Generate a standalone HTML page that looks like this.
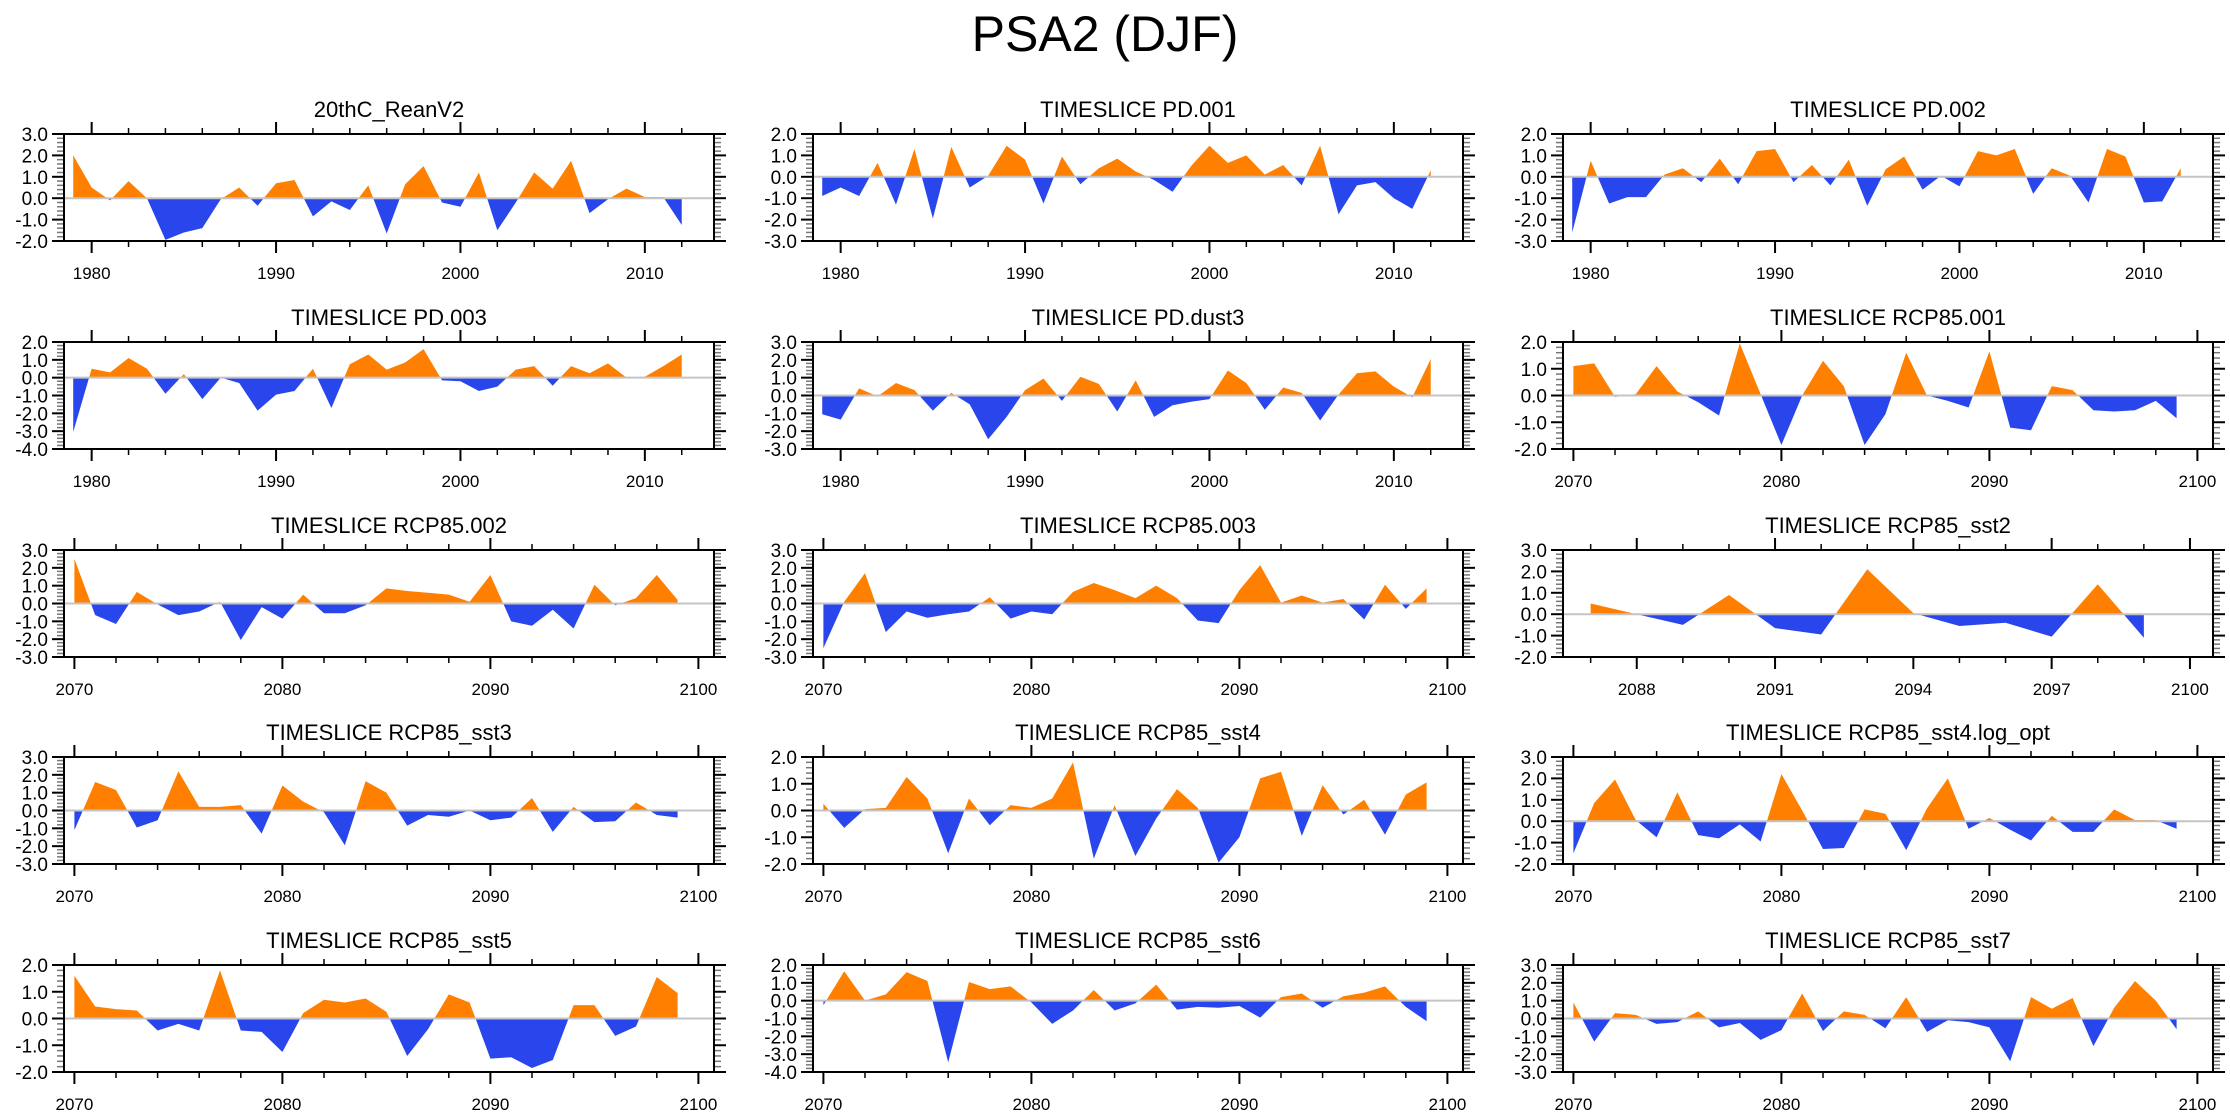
<!DOCTYPE html>
<html><head><meta charset="utf-8"><title>PSA2 (DJF)</title>
<style>
html,body{margin:0;padding:0;background:#fff;}
svg{display:block;font-family:"Liberation Sans",Arial,sans-serif;}
</style></head>
<body>
<svg id="fig" width="2230" height="1120" viewBox="0 0 2230 1120" xmlns="http://www.w3.org/2000/svg">
<text x="1105" y="51" font-size="50" text-anchor="middle">PSA2 (DJF)</text>
</svg>
<script>
const reanV2 = [2.0,0.5,-0.1,0.8,0.0,-1.95,-1.6,-1.4,-0.05,0.5,-0.35,0.7,0.85,-0.85,-0.15,-0.55,0.6,-1.65,0.65,1.5,-0.2,-0.4,1.2,-1.5,-0.2,1.2,0.45,1.75,-0.7,-0.05,0.45,0.05,0.05,-1.25];
const pd001 = [-0.9,-0.5,-0.9,0.65,-1.3,1.3,-1.95,1.4,-0.5,0.05,1.45,0.8,-1.25,0.95,-0.35,0.4,0.85,0.25,-0.15,-0.7,0.5,1.45,0.65,1.0,0.1,0.55,-0.4,1.45,-1.75,-0.4,-0.25,-1.0,-1.5,0.3];
const pd002 = [-2.6,0.75,-1.25,-0.95,-0.95,0.1,0.4,-0.25,0.85,-0.35,1.2,1.3,-0.25,0.55,-0.4,0.8,-1.35,0.35,0.95,-0.6,0.05,-0.45,1.2,1.0,1.3,-0.8,0.4,0.05,-1.2,1.3,0.95,-1.2,-1.15,0.4];
const pd003 = [-3.05,0.5,0.3,1.1,0.5,-0.9,0.2,-1.2,0.0,-0.3,-1.85,-0.95,-0.75,0.5,-1.7,0.75,1.3,0.45,0.85,1.6,-0.15,-0.2,-0.75,-0.5,0.45,0.65,-0.45,0.65,0.25,0.8,0.0,0.05,0.65,1.3];
const pdDust3 = [-1.05,-1.35,0.4,-0.05,0.7,0.3,-0.85,0.15,-0.5,-2.45,-1.2,0.3,0.95,-0.3,1.05,0.65,-0.9,0.85,-1.2,-0.55,-0.35,-0.2,1.4,0.7,-0.8,0.45,0.15,-1.4,0.05,1.25,1.35,0.5,-0.1,2.05];
const rcp001 = [1.1,1.2,-0.05,0.05,1.1,0.15,-0.25,-0.75,1.95,0.05,-1.85,0.0,1.3,0.35,-1.85,-0.7,1.6,0.0,-0.2,-0.45,1.65,-1.2,-1.3,0.35,0.2,-0.55,-0.6,-0.55,-0.2,-0.85];
const rcp002 = [2.5,-0.65,-1.15,0.65,-0.05,-0.65,-0.45,0.1,-2.05,-0.2,-0.85,0.5,-0.55,-0.55,-0.1,0.85,0.7,0.6,0.5,0.1,1.6,-1.0,-1.25,-0.35,-1.4,1.05,-0.1,0.3,1.6,0.2];
const rcp003 = [-2.5,0.1,1.7,-1.6,-0.45,-0.8,-0.6,-0.45,0.35,-0.85,-0.45,-0.6,0.65,1.15,0.75,0.3,1.0,0.3,-0.95,-1.1,0.75,2.15,0.05,0.45,0.05,0.25,-0.9,1.05,-0.3,0.85];
const sst2 = [0.5,0.0,-0.5,0.9,-0.65,-0.95,2.1,0.05,-0.55,-0.4,-1.05,1.4,-1.1];
const sst3 = [-1.1,1.6,1.15,-0.95,-0.55,2.2,0.2,0.2,0.3,-1.3,1.4,0.5,-0.1,-1.95,1.65,1.0,-0.85,-0.25,-0.35,0.0,-0.55,-0.4,0.7,-1.2,0.2,-0.65,-0.6,0.45,-0.25,-0.4];
const sst4 = [0.25,-0.65,0.05,0.1,1.25,0.45,-1.6,0.45,-0.55,0.2,0.1,0.45,1.8,-1.8,0.2,-1.7,-0.3,0.8,0.1,-1.95,-1.0,1.2,1.45,-0.95,0.95,-0.15,0.4,-0.9,0.6,1.05];
const sst4log = [-1.5,0.85,1.95,0.05,-0.75,1.35,-0.65,-0.8,-0.15,-0.95,2.2,0.5,-1.3,-1.25,0.55,0.35,-1.35,0.6,2.0,-0.35,0.15,-0.4,-0.9,0.25,-0.5,-0.5,0.55,0.05,0.05,-0.35];
const sst5 = [1.6,0.45,0.35,0.3,-0.45,-0.2,-0.45,1.8,-0.45,-0.5,-1.25,0.2,0.7,0.6,0.75,0.25,-1.4,-0.4,0.9,0.6,-1.5,-1.45,-1.85,-1.55,0.5,0.5,-0.65,-0.3,1.55,0.95];
const sst6 = [-0.25,1.65,0.0,0.35,1.6,1.1,-3.45,1.05,0.65,0.8,-0.1,-1.3,-0.55,0.6,-0.55,-0.15,0.9,-0.5,-0.35,-0.4,-0.3,-0.95,0.2,0.4,-0.4,0.25,0.45,0.8,-0.35,-1.15];
const sst7 = [0.9,-1.3,0.3,0.2,-0.3,-0.2,0.4,-0.5,-0.25,-1.2,-0.65,1.4,-0.7,0.4,0.2,-0.55,1.2,-0.75,-0.1,-0.2,-0.5,-2.4,1.2,0.55,1.15,-1.55,0.6,2.1,1.0,-0.6];

const panelTitles = ["20thC_ReanV2","TIMESLICE PD.001","TIMESLICE PD.002","TIMESLICE PD.003","TIMESLICE PD.dust3","TIMESLICE RCP85.001","TIMESLICE RCP85.002","TIMESLICE RCP85.003","TIMESLICE RCP85_sst2","TIMESLICE RCP85_sst3","TIMESLICE RCP85_sst4","TIMESLICE RCP85_sst4.log_opt","TIMESLICE RCP85_sst5","TIMESLICE RCP85_sst6","TIMESLICE RCP85_sst7"];
const panelSeries = [reanV2,pd001,pd002,pd003,pdDust3,rcp001,rcp002,rcp003,sst2,sst3,sst4,sst4log,sst5,sst6,sst7];
const startYears = [1979,1979,1979,1979,1979,2070,2070,2070,2087,2070,2070,2070,2070,2070,2070];
const yMins = [-2,-3,-3,-4,-3,-2,-3,-3,-2,-3,-2,-2,-2,-4,-3];
const yMaxs = [3,2,2,2,3,2,3,3,3,3,2,3,2,2,3];
const xKinds = [0,0,0,0,0,1,1,1,2,1,1,1,1,1,1];
const xMinByKind = [1978.5,2069.5,2086.4];
const xMaxByKind = [2013.75,2100.75,2100.5];
const xMajorStart = [1980,2070,2088];
const xMajorStep = [10,10,3];
const xMinorStep = [2,2,1];

const NS="http://www.w3.org/2000/svg";
const svg=document.getElementById('fig');
const colLeft=[64,813,1563], rowTop=[134,342,550,757,965], W=650, H=107;
function mk(tag,attrs,parent){const e=document.createElementNS(NS,tag);for(const k in attrs)e.setAttribute(k,attrs[k]);(parent||svg).appendChild(e);return e;}

panelSeries.forEach((vals,p)=>{
  const L=colLeft[p%3], T=rowTop[Math.floor(p/3)], B=T+H, R=L+W;
  const k=xKinds[p], x0=xMinByKind[k], x1=xMaxByKind[k];
  const y0=yMins[p], y1=yMaxs[p];
  const sx=v=>L+(v-x0)/(x1-x0)*W;
  const sy=v=>B-(v-y0)/(y1-y0)*H;
  const g=mk('g',{});
  
  
  const t=mk('text',{x:L+W/2,y:T-17,'font-size':22,'text-anchor':'middle'},g);
  t.textContent=panelTitles[p];
  
  
  const z=sy(0);
  const cu=mk('clipPath',{id:'cu'+p},g); mk('rect',{x:L,y:T,width:W,height:z-T},cu);
  const cd=mk('clipPath',{id:'cd'+p},g); mk('rect',{x:L,y:z,width:W,height:B-z},cd);
  let pts=[[sx(startYears[p]),z]];
  vals.forEach((v,i)=>pts.push([sx(startYears[p]+i),sy(v)]));
  pts.push([sx(startYears[p]+vals.length-1),z]);
  const ps=pts.map(q=>q[0].toFixed(2)+','+q[1].toFixed(2)).join(' ');
  const pu=mk('polygon',{points:ps,fill:'#ff8000','clip-path':'url(#cu'+p+')'},g);
  
  
  const pdn=mk('polygon',{points:ps,fill:'#2846eb','clip-path':'url(#cd'+p+')'},g);
  
  
  const zl=mk('line',{x1:L,x2:R,y1:z,y2:z,stroke:'#c4c4c4','stroke-width':2},g);
  
  
  for(let v=y0;v<=y1+1e-6;v+=0.2){
    const vv=Math.round(v*10)/10, yy=sy(vv), major=Math.abs(vv-Math.round(vv))<1e-6, len=major?12:7;
    mk('line',{x1:L-len,x2:L,y1:yy,y2:yy,stroke:major?'#000':'#777','stroke-width':major?2:1.5},g);
    mk('line',{x1:R,x2:R+len,y1:yy,y2:yy,stroke:major?'#000':'#777','stroke-width':major?2:1.5},g);
    if(major){
      const lt=mk('text',{x:L-16,y:yy+7,'font-size':19,'text-anchor':'end'},g);
      lt.textContent=vv.toFixed(1);
      
      
    }
  }
  const ms=xMinorStep[k];
  for(let yr=Math.ceil(x0);yr<=x1;yr++){
    const isMajor=(yr-xMajorStart[k])%xMajorStep[k]===0;
    const isMinor=(yr-xMajorStart[k])%ms===0;
    if(!isMajor&&!isMinor)continue;
    const xx=sx(yr), len=isMajor?12:6;
    mk('line',{x1:xx,x2:xx,y1:B,y2:B+len,stroke:'#000','stroke-width':isMajor?2:1.5},g);
    mk('line',{x1:xx,x2:xx,y1:T-len,y2:T,stroke:'#000','stroke-width':isMajor?2:1.5},g);
    if(isMajor){
      const xt=mk('text',{x:xx,y:B+38,'font-size':17,'text-anchor':'middle'},g);
      xt.textContent=String(yr);
      
      
    }
  }
  const box=mk('rect',{x:L,y:T,width:W,height:H,fill:'none',stroke:'#000','stroke-width':2},g);
  
  
});
</script>
</body></html>
